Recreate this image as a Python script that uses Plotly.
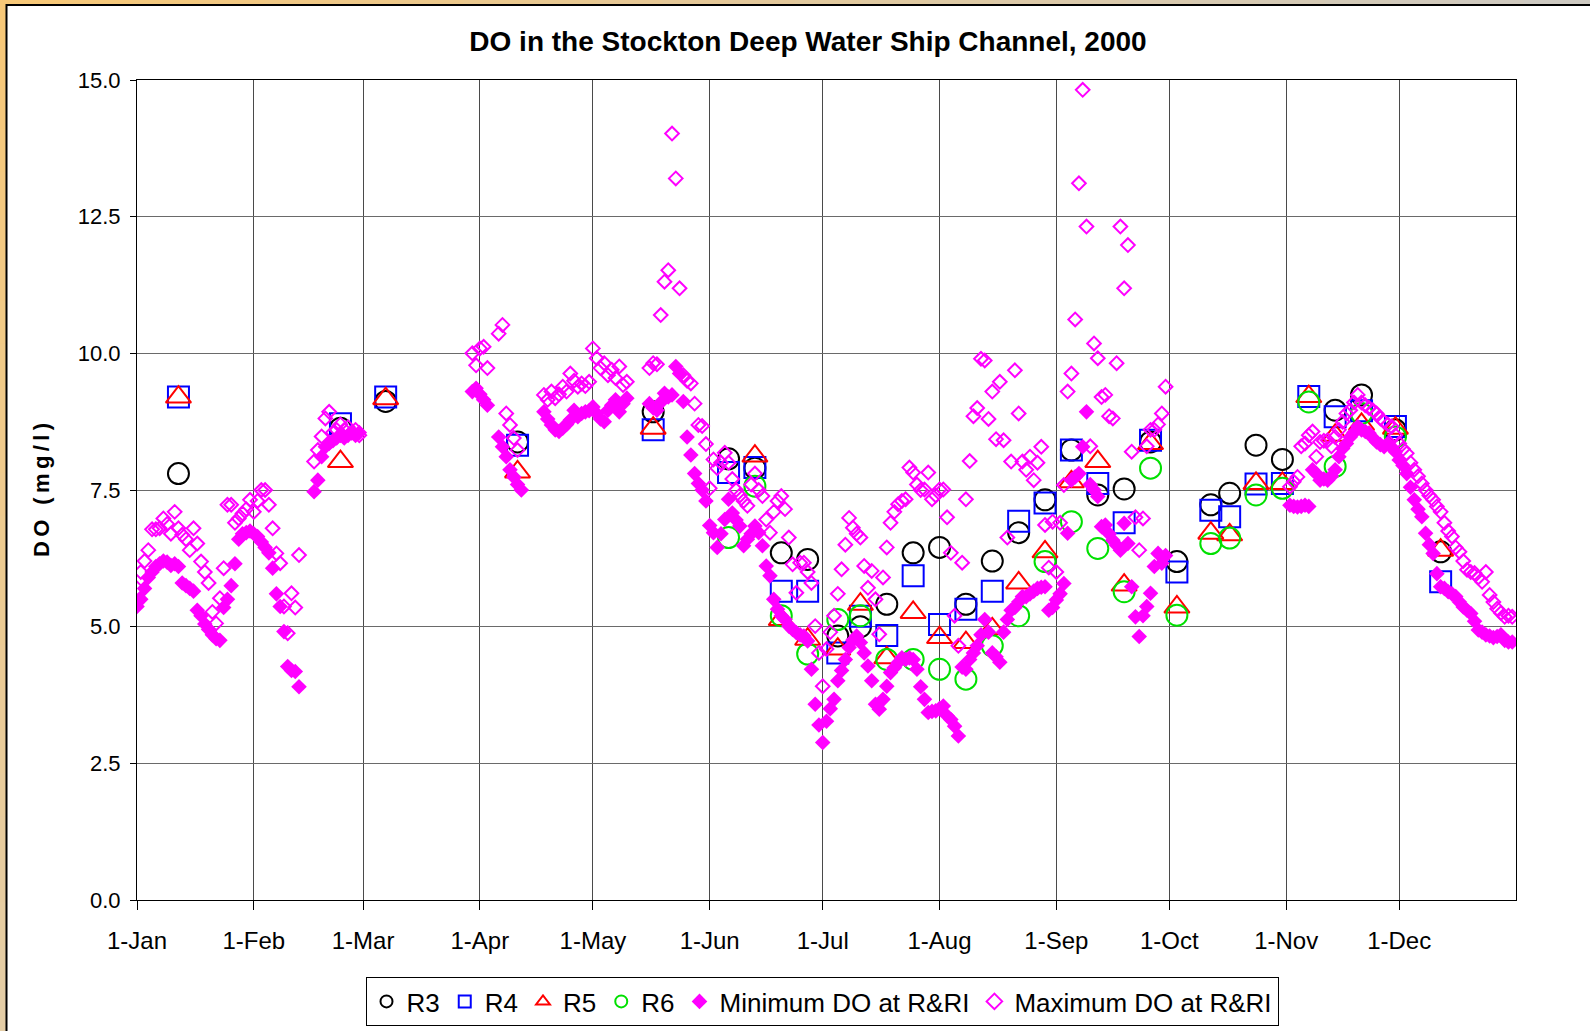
import plotly.graph_objects as go
import pandas as pd

# ---------------- data ----------------
month_ticks = ["2000-01-01", "2000-02-01", "2000-03-01", "2000-04-01", "2000-05-01", "2000-06-01",
               "2000-07-01", "2000-08-01", "2000-09-01", "2000-10-01", "2000-11-01", "2000-12-01"]
month_labels = ["1-Jan", "1-Feb", "1-Mar", "1-Apr", "1-May", "1-Jun",
                "1-Jul", "1-Aug", "1-Sep", "1-Oct", "1-Nov", "1-Dec"]

sample_dates = ["2000-01-12", "2000-02-24", "2000-03-07", "2000-04-11", "2000-05-17", "2000-06-06",
                "2000-06-13", "2000-06-20", "2000-06-27", "2000-07-05", "2000-07-11", "2000-07-18",
                "2000-07-25", "2000-08-01", "2000-08-08", "2000-08-15", "2000-08-22", "2000-08-29",
                "2000-09-05", "2000-09-12", "2000-09-19", "2000-09-26", "2000-10-03", "2000-10-12",
                "2000-10-17", "2000-10-24", "2000-10-31", "2000-11-07", "2000-11-14", "2000-11-21",
                "2000-11-30", "2000-12-12"]
r3 = [7.8, 8.63, 9.12, 8.38, 8.93, 8.07, 7.9, 6.35, 6.23, 4.83, 5.0, 5.41, 6.35, 6.45, 5.41, 6.2,
      6.72, 7.32, 8.23, 7.41, 7.52, 8.38, 6.19, 7.23, 7.44, 8.32, 8.06, None, 8.96, 9.24, 8.6, 6.37]
r4 = [9.2, 8.71, 9.2, 8.32, 8.6, 7.82, 7.91, 5.65, 5.65, 4.52, 5.19, 4.84, 5.93, 5.04, 5.32, 5.65,
      6.93, 7.26, 8.23, 7.62, 6.9, 8.41, 6.0, 7.13, 7.01, 7.61, 7.62, 9.21, 8.84, 8.95, 8.66, 5.82]
r5 = [9.2, 8.02, 9.17, 7.83, 8.63, None, 8.12, 5.13, 4.77, 4.59, 5.41, 4.43, 5.26, 4.8, 4.71, 4.96,
      5.8, 6.37, 7.65, 8.02, 5.76, 8.35, 5.36, 6.71, 6.68, 7.62, 7.62, 9.21, 8.5, 8.7, 8.63, 6.4]
r6 = [None, None, None, None, None, 6.63, 7.57, 5.2, 4.5, 5.13, 5.2, 4.4, 4.4, 4.22, 4.04, 4.65,
      5.2, 6.19, 6.92, 6.43, 5.64, 7.9, 5.21, 6.52, 6.62, 7.41, 7.53, 9.11, 7.93, 8.9, 8.47, None]

# daily min / max DO at R&RI, consecutive days from each start date
start_jan = "2000-01-01"
min_jan = [5.37, 5.5, 5.7, 5.9, 6.0, 6.1, 6.15, 6.2, 6.18, 6.12, 6.15, 6.1, 5.8, 5.75, 5.7, 5.65,
           5.3, 5.2, 5.05, 4.95, 4.85, 4.78, 4.75, 5.35, 5.5, 5.75, 6.15, 6.6, 6.7, 6.72, 6.75, 6.7,
           6.65, 6.55, 6.45, 6.35, 6.07, 5.6, 5.37, 4.91, 4.27, 4.2, 4.18, 3.9]
max_jan = [5.7, 6.0, 6.2, 6.4, 6.78, 6.78, 6.8, 6.98, 6.88, 6.7, 7.1, 6.8, 6.68, 6.6, 6.4, 6.8,
           6.52, 6.19, 6.0, 5.8, 5.27, 5.06, 5.52, 6.07, 7.23, 7.23, 6.9, 6.98, 7.07, 7.15, 7.32, 7.1,
           7.3, 7.5, 7.5, 7.23, 6.8, 6.34, 6.16, 5.37, 4.88, 5.61, 5.35, 6.31]
start_feb = "2000-02-17"
min_feb = [7.47, 7.68, 8.11, 8.29, 8.35, 8.4, 8.45, 8.5, 8.45, 8.5, 8.55, 8.5, 8.55]
max_feb = [8.02, 8.23, 8.48, 8.81, 8.93, 8.55, 8.6, 8.7, 8.6, 8.65, 8.55, 8.6, 8.5]
start_mar = "2000-03-30"
min_mar = [9.3, 9.36, 9.25, 9.15, 9.05, None, None, 8.47, 8.29, 8.11, 7.87, 7.74, 7.6, 7.5]
max_mar = [10.0, 9.78, 10.09, 10.12, 9.73, None, None, 10.36, 10.52, 8.9, 8.69, 8.45, 8.23, None]
start_apr = "2000-04-18"
min_apr = [8.93, 8.8, 8.69, 8.6, 8.57, 8.63, 8.7, 8.78, 8.96, 8.84, 8.9, 8.93, 8.95, 9.02, 8.9,
           8.8, 8.75, 8.96, 9.05, 9.15, 8.93, 9.08, 9.18]
max_apr = [9.24, 9.15, 9.3, 9.18, 9.25, 9.39, 9.3, 9.63, 9.5, 9.39, 9.45, 9.4, 9.48, 10.09, 9.91,
           9.73, 9.82, 9.6, 9.7, 9.55, 9.76, 9.42, 9.48]
start_sum = "2000-05-16"
min_sum = [9.08, 9.0, 8.96, 9.1, 9.27, 9.2, 9.24, 9.76, 9.63, 9.12,
           8.47, 8.14, 7.8, 7.62, 7.5, 7.3, 6.85, 6.72, 6.45, 6.7,
           6.96, 7.33, 7.08, 6.95, 6.84, 6.48, 6.6, 6.7, 6.84, 6.72,
           6.48, 6.11, 5.93, 5.5, 5.32, 5.2, 5.13, 5.01, 4.95, 4.89,
           4.85, 4.83, 4.74, 4.22, 3.58, 3.2, 2.88, 3.27, 3.5, 3.67,
           4.01, 4.2, 4.4, 4.62, 4.75, 4.83, 4.71, 4.52, 4.28, 4.01,
           3.58, 3.49, 3.67, 3.91, 4.16, 4.25, 4.34, 4.43, 4.4, 4.43,
           4.4, 4.22, 3.9, 3.67, 3.43, 3.45, 3.46, 3.5, 3.55, 3.37,
           3.3, 3.18, 3.0, 4.26, 4.22, 4.4, 4.52, 4.65, 4.85, 5.13,
           4.9, 4.52, 4.45, 4.35, 4.9, 5.13, 5.3, 5.35, 5.45, 5.55,
           5.55, 5.6, 5.65, 5.7, 5.72, 5.73, 5.3, 5.35, 5.49, 5.6,
           5.79, 6.71, 7.68, 7.74, 7.8, 8.29, 8.93, 7.6, 7.5, 7.38,
           6.83, 6.86, 6.7, 6.58, 6.49, 6.4, 6.89, 6.52, 5.73, 5.18,
           4.82, 5.2, 5.37, 5.61, 6.1, 6.34, 6.16, 6.3]
max_sum = [9.73, 9.82, 9.8, 10.7, 11.31, 11.52, 14.02, 13.2, 11.19, 9.6,
           9.5, 9.45, 9.08, 8.69, 8.67, 8.34, 7.53, 8.06, 7.9, 8.0,
           8.18, 8.0, 7.7, 7.5, 7.4, 7.3, 7.21, 7.6, 7.8, 7.5,
           7.39, 6.96, 6.72, 7.1, 7.3, 7.39, 7.15, 6.63, 6.14, 5.62,
           6.17, 6.17, 6.0, 5.8, 5.01, 4.52, 3.91, 4.59, 4.9, 5.2,
           5.6, 6.05, 6.5, 6.99, 6.81, 6.7, 6.63, 6.11, 5.71, 6.02,
           5.5, 4.86, 5.9, 6.45, 6.9, 7.1, 7.24, 7.3, 7.33, 7.91,
           7.82, 7.6, 7.5, 7.51, 7.82, 7.33, 7.4, 7.51, 7.51, 7.0,
           6.35, 5.2, 4.65, 6.17, 7.33, 8.03, 8.85, 9.0, 9.9, 9.87,
           8.8, 9.3, 8.43, 9.48, 8.41, 6.63, 8.02, 9.69, 8.9, 8.02,
           7.87, 8.11, 7.68, 8.0, 8.29, 6.86, 6.08, 6.92, 6.0, 6.9,
           7.59, 9.3, 9.63, 10.62, 13.11, 14.82, 12.32, 8.3, 10.18, 9.91,
           9.2, 9.24, 8.85, 8.81, 9.82, 12.32, 11.19, 11.98, 8.2, 7.0,
           6.4, 6.98, 8.3, 8.6, 8.6, 8.7, 8.9, 9.39]
start_nov = "2000-11-02"
min_nov = [7.22, 7.2, 7.19, 7.2, 7.22, 7.2, 7.87, 7.8, 7.68, 7.7,
           7.68, 7.75, 7.87, 8.11, 8.26, 8.35, 8.47, 8.55, 8.66, 8.6,
           8.57, 8.54, 8.45, 8.38, 8.33, 8.29, 8.35, 8.28, 8.2, 8.05,
           7.95, 7.8, 7.55, 7.32, 7.15, 7.01, 6.71, 6.5, 6.34, 5.97,
           5.73, 5.7, 5.64, 5.6, 5.55, 5.45, 5.36, 5.3, 5.24, 5.1,
           4.94, 4.9, 4.85, 4.83, 4.8, 4.82, 4.85, 4.75, 4.72, 4.72]
max_nov = [7.56, 7.65, 7.74, 8.3, 8.35, 8.5, 8.57, 8.11, 8.38, 8.4,
           8.41, 8.3, 8.47, 8.6, 8.75, 8.9, 8.96, 9.1, 9.24, 9.1,
           9.05, 9.0, 8.96, 8.9, 8.81, 8.75, 8.7, 8.66, 8.5, 8.35,
           8.25, 8.17, 8.0, 7.87, 7.75, 7.62, 7.5, 7.4, 7.32, 7.2,
           7.1, 6.9, 6.75, 6.65, 6.45, 6.37, 6.2, 6.04, 6.0, 5.98,
           5.9, 5.82, 6.0, 5.58, 5.45, 5.33, 5.25, 5.18, 5.2, 5.18]

segments = [(start_jan, min_jan, max_jan), (start_feb, min_feb, max_feb), (start_mar, min_mar, max_mar),
            (start_apr, min_apr, max_apr), (start_sum, min_sum, max_sum), (start_nov, min_nov, max_nov)]

days, mins, maxs = [], [], []
for start, mn, mx in segments:
    d = pd.date_range(start, periods=len(mn), freq="D")
    days += list(d)
    mins += mn
    maxs += mx

# ---------------- figure ----------------
W, H = 1590, 1031
ML, MR, MT, MB = 137, 74, 80, 131
PW, PH = W - ML - MR, H - MT - MB

FONT = "Liberation Sans, Arial, sans-serif"

fig = go.Figure()
fig.add_trace(go.Scatter(x=sample_dates, y=r3, mode="markers", name="R3",
                         marker=dict(symbol="circle-open", size=21, color="black", line=dict(width=2))))
fig.add_trace(go.Scatter(x=sample_dates, y=r4, mode="markers", name="R4",
                         marker=dict(symbol="square-open", size=21, color="#0000ff", line=dict(width=2))))
fig.add_trace(go.Scatter(x=sample_dates, y=r5, mode="markers", name="R5",
                         marker=dict(symbol="triangle-up-open", size=22, color="#ff0000", line=dict(width=2))))
fig.add_trace(go.Scatter(x=sample_dates, y=r6, mode="markers", name="R6",
                         marker=dict(symbol="circle-open", size=21, color="#00e000", line=dict(width=2))))
fig.add_trace(go.Scatter(x=days, y=mins, mode="markers", name="Minimum DO at R&RI",
                         marker=dict(symbol="diamond", size=12, color="#ff00ff", line=dict(width=0))))
fig.add_trace(go.Scatter(x=days, y=maxs, mode="markers", name="Maximum DO at R&RI",
                         marker=dict(symbol="diamond-open", size=10.5, color="#ff00ff", line=dict(width=2))))


def px_x(p):
    return (p - ML) / PW


def px_y(p):
    return (H - MB - p) / PH


def hexmix(c1, c2, t):
    a = [int(c1[i:i + 2], 16) for i in (1, 3, 5)]
    b = [int(c2[i:i + 2], 16) for i in (1, 3, 5)]
    return "#%02x%02x%02x" % tuple(round(a[k] + (b[k] - a[k]) * t) for k in range(3))


# window-frame decoration around the chart (orange/grey strips and black edge)
shapes = []
N = 24
for i in range(N):
    x0 = W * i / N
    x1 = W * (i + 1) / N
    shapes.append(dict(type="rect", xref="paper", yref="paper", x0=px_x(x0), x1=px_x(x1 + 1),
                       y0=px_y(4.5), y1=px_y(0), line=dict(width=0),
                       fillcolor=hexmix("#f7c878", "#cdc9c1", i / (N - 1)), layer="below"))
    y0 = H * i / N
    y1 = H * (i + 1) / N
    shapes.append(dict(type="rect", xref="paper", yref="paper", x0=px_x(0), x1=px_x(6),
                       y0=px_y(y1 + 1), y1=px_y(y0), line=dict(width=0),
                       fillcolor=hexmix("#f7c878", "#e4cda6", i / (N - 1)), layer="below"))
shapes.append(dict(type="line", xref="paper", yref="paper", x0=px_x(6), x1=px_x(W),
                   y0=px_y(5), y1=px_y(5), line=dict(color="black", width=2)))
shapes.append(dict(type="line", xref="paper", yref="paper", x0=px_x(6.5), x1=px_x(6.5),
                   y0=px_y(H), y1=px_y(4), line=dict(color="black", width=2)))

fig.update_layout(
    width=W, height=H,
    margin=dict(l=ML, r=MR, t=MT, b=MB, pad=0, autoexpand=False),
    paper_bgcolor="white", plot_bgcolor="white",
    shapes=shapes,
    title=dict(text="<b>DO in the Stockton Deep Water Ship Channel, 2000</b>",
               x=808 / W, xanchor="center", xref="container",
               y=1 - 41 / H, yanchor="middle",
               font=dict(family=FONT, size=28, color="black")),
    xaxis=dict(type="date", range=["2000-01-01", "2001-01-01"],
               tickvals=month_ticks, ticktext=month_labels,
               showgrid=True, gridcolor="#4a4a4a", gridwidth=1,
               ticks="outside", ticklen=9, tickcolor="black", tickwidth=1,
               showline=True, linecolor="black", linewidth=1, mirror=True,
               tickfont=dict(family=FONT, size=24, color="black"),
               ticklabelstandoff=10, zeroline=False, automargin=False),
    yaxis=dict(range=[0, 15], tickvals=[0, 2.5, 5, 7.5, 10, 12.5, 15], tickformat=".1f",
               showgrid=True, gridcolor="#6a6a6a", gridwidth=1.3,
               ticks="outside", ticklen=6, tickcolor="black", tickwidth=1,
               showline=True, linecolor="black", linewidth=1, mirror=True,
               tickfont=dict(family=FONT, size=22, color="black"),
               ticklabelstandoff=5, zeroline=False, automargin=False,
               title=dict(text="<b>D\u2009O\u2009 \u2009(\u2009m\u2009g\u2009/\u2009l\u2009)</b>",
                          font=dict(family=FONT, size=22, color="black"), standoff=22)),
    legend=dict(orientation="h", x=(822 - ML) / PW, xanchor="center", y=px_y(977), yanchor="top",
                bordercolor="black", borderwidth=1, bgcolor="white",
                font=dict(family=FONT, size=26, color="black"),
                itemsizing="constant", itemwidth=30, tracegroupgap=0),
    showlegend=True,
)

fig.write_html("out.html", config={"displayModeBar": False},
               post_script="document.body.style.margin='0px';")
